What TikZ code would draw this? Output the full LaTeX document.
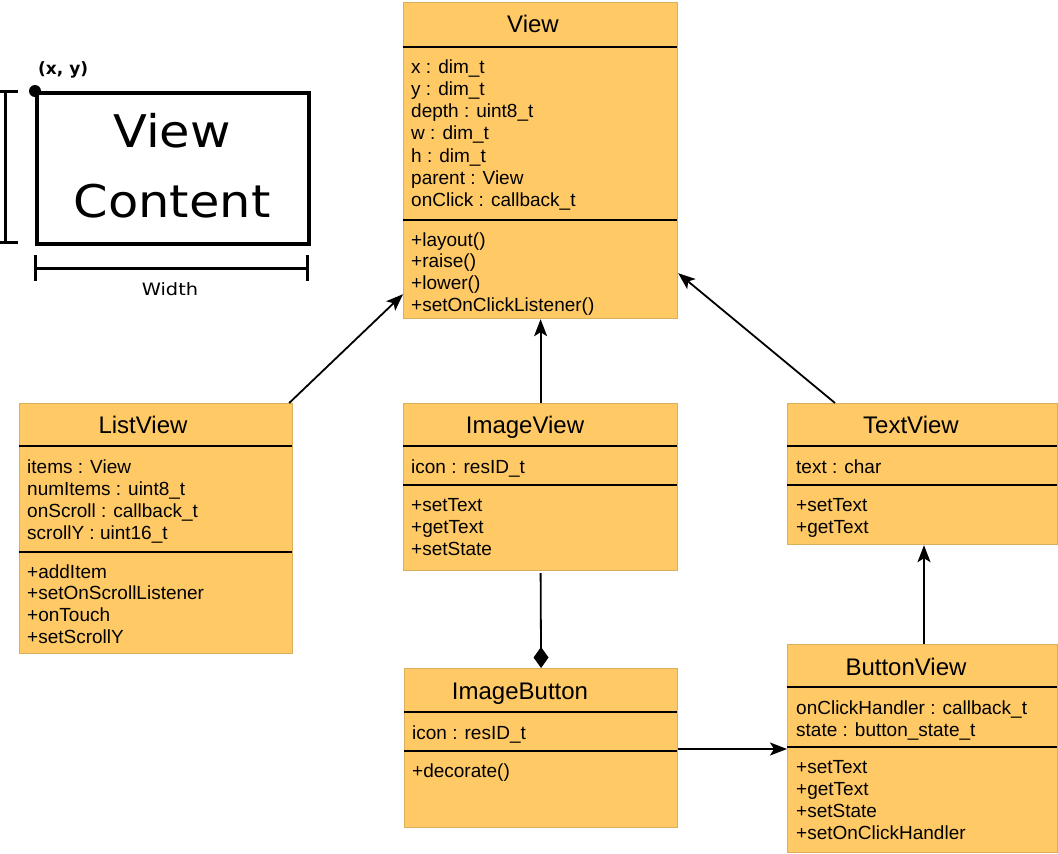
\documentclass[tikz,border=0pt]{standalone}
\usepackage{fontspec}
\setmainfont{Liberation Sans}
\newfontfamily\dejavu{DejaVu Sans}
\usetikzlibrary{arrows.meta,calc}
\definecolor{classfill}{HTML}{FFCA66}
\definecolor{classedge}{HTML}{D9AE5C}
\tikzset{
  classbox/.style={rectangle, draw=classedge, line width=1.2pt, fill=classfill, inner sep=0pt, anchor=north west},
  classname/.style={anchor=base, inner sep=0pt, font=\fontsize{24}{27}\selectfont},
  member/.style={anchor=base west, inner sep=0pt, font=\fontsize{19}{22}\selectfont},
  rule/.style={line width=1.8pt},
  link/.style={line width=1.8pt, -{Stealth[length=17pt,width=13pt,inset=4pt]}},
  compose/.style={line width=1.8pt, -{Diamond[length=21pt,width=15pt]}},
  bracket/.style={line width=3pt},
  sketchlabel/.style={anchor=base, inner sep=0pt, font=\dejavu\fontsize{17}{20}\selectfont},
  bigtext/.style={anchor=base, inner sep=0pt, font=\dejavu\fontsize{45}{52}\selectfont},
}
\begin{document}
\begin{tikzpicture}[x=1pt, y=-1pt]
\fill[white] (0,0) rectangle (1058,854);
\useasboundingbox (0,0) rectangle (1058,854);

% ---- geometry sketch of a view ----
\node[rectangle, draw, line width=4pt, minimum width=272pt, minimum height=151pt,
      inner sep=0pt, anchor=north west] (content) at (35,91) {};
\node[bigtext] (content-l1) at (172,147) {\scalebox{1.1}[1]{View}};
\node[bigtext] (content-l2) at (172,217) {\scalebox{1.1}[1]{Content}};
\fill (content.north west) circle[radius=6pt];
\node[sketchlabel, anchor=base west, font=\dejavu\bfseries\fontsize{17}{20}\selectfont] (origin) at (38,74) {(x, y)};
\draw[bracket] (0,91) -- (18,91) (5,91) -- (5,242) (0,242) -- (18,242);
\draw[bracket] (35,255) -- (35,281) (35,268) -- (307,268) (307,255) -- (307,281);
\node[sketchlabel] (width) at (170,295) {\scalebox{1.14}[1]{Width}};

% ---- View ----
\node[classbox, minimum width=274pt, minimum height=316pt] (view) at (403,2) {};
\node[classname] (view-name) at (533,32) {View};
\draw[rule] (403,47) -- (677,47);
\draw[rule] (403,220) -- (677,220);
\foreach \t [count=\i] in {x : dim\_t, y : dim\_t, depth : uint8\_t, w : dim\_t, h : dim\_t, parent : View, onClick : callback\_t}
  \node[member] (view-a\i) at (411,{73+22.3*(\i-1)}) {\t};
\foreach \t [count=\i] in {+layout(), +raise(), +lower(), +setOnClickListener()}
  \node[member] (view-m\i) at (411,{246+21.9*(\i-1)}) {\t};

% ---- ListView ----
\node[classbox, minimum width=273pt, minimum height=250pt] (listview) at (19,403) {};
\node[classname] (listview-name) at (143,433) {ListView};
\draw[rule] (19,446) -- (292,446);
\draw[rule] (19,552) -- (292,552);
\foreach \t [count=\i] in {items : View, numItems : uint8\_t, onScroll : callback\_t, scrollY : uint16\_t}
  \node[member] (listview-a\i) at (27,{473+22.3*(\i-1)}) {\t};
\foreach \t [count=\i] in {+addItem, +setOnScrollListener, +onTouch, +setScrollY}
  \node[member] (listview-m\i) at (27,{578+21.7*(\i-1)}) {\t};

% ---- ImageView ----
\node[classbox, minimum width=274pt, minimum height=167pt] (imageview) at (403,403) {};
\node[classname] (imageview-name) at (525,433) {ImageView};
\draw[rule] (403,446) -- (677,446);
\draw[rule] (403,485) -- (677,485);
\node[member] (imageview-a1) at (411,473) {icon : resID\_t};
\foreach \t [count=\i] in {+setText, +getText, +setState}
  \node[member] (imageview-m\i) at (411,{511+22*(\i-1)}) {\t};

% ---- TextView ----
\node[classbox, minimum width=270pt, minimum height=141pt] (textview) at (787,403) {};
\node[classname] (textview-name) at (911,433) {TextView};
\draw[rule] (787,446) -- (1057,446);
\draw[rule] (787,485) -- (1057,485);
\node[member] (textview-a1) at (796,473) {text : char};
\foreach \t [count=\i] in {+setText, +getText}
  \node[member] (textview-m\i) at (796,{511+22*(\i-1)}) {\t};

% ---- ButtonView ----
\node[classbox, minimum width=270pt, minimum height=208pt] (buttonview) at (787,644) {};
\node[classname] (buttonview-name) at (906,675) {ButtonView};
\draw[rule] (787,687) -- (1057,687);
\draw[rule] (787,747) -- (1057,747);
\foreach \t [count=\i] in {onClickHandler : callback\_t, state : button\_state\_t}
  \node[member] (buttonview-a\i) at (796,{714+22*(\i-1)}) {\t};
\foreach \t [count=\i] in {+setText, +getText, +setState, +setOnClickHandler}
  \node[member] (buttonview-m\i) at (796,{773+22*(\i-1)}) {\t};

% ---- ImageButton ----
\node[classbox, minimum width=273pt, minimum height=159pt] (imagebutton) at (404,668) {};
\node[classname] (imagebutton-name) at (520,699) {ImageButton};
\draw[rule] (404,712) -- (677,712);
\draw[rule] (404,751) -- (677,751);
\node[member] (imagebutton-a1) at (412,739) {icon : resID\_t};
\node[member] (imagebutton-m1) at (412,777) {+decorate()};

% ---- relations ----
\draw[link] ($(listview.north east)+(-4,0)$) -- ($(view.south west)+(0,-25)$);
\draw[link] (imageview.north) -- (view.south);
\draw[link] ($(textview.north west)+(48,0)$) -- ($(view.south east)+(0,-46)$);
\draw[link] ($(buttonview.north west)+(137,0)$) -- ($(textview.south west)+(137,0)$);
\draw[compose] ($(imageview.south)+(0,2)$) -- (imagebutton.north);
\draw[link] ($(imagebutton.north east)+(0,81)$) -- ($(buttonview.north west)+(0,105)$);
\end{tikzpicture}
\end{document}
